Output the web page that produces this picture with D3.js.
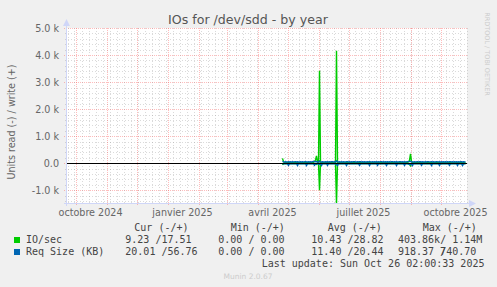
<!DOCTYPE html>
<html>
<head>
<meta charset="utf-8">
<script src="https://cdn.jsdelivr.net/npm/d3@7"></script>
<style>
  body { margin: 0; background: #f0f0f0; }
  svg { display: block; }
</style>
</head>
<body>
<div id="chart"></div>
<script>

const W = 497, H = 287;
const plot = {left: 67, right: 467, top: 28, bottom: 203};

// time window of the "by year" graph (400 days) and first day with samples
const rangeStart = new Date(Date.UTC(2024, 8, 22, 12));
const rangeEnd = d3.utcDay.offset(rangeStart, 400);
const dataStart = new Date(Date.UTC(2025, 3, 26));

// daily samples, read drawn below zero
const ioWrite = [
  180, 60, 22, 18, 25, 20, 17, 30, 24, 19, 21, 26, 18, 23, 28, 20, 16, 22, 27, 19,
  24, 21, 18, 26, 30, 22, 19, 25, 20, 23, 28, 35, 60, 120, 270, 40, 25, 3420, 30, 22,
  26, 19, 24, 21, 28, 23, 18, 25, 20, 27, 22, 19, 24, 30, 4160, 26, 21, 18, 24, 29,
  22, 19, 25, 20, 23, 27, 18, 24, 21, 26, 30, 22, 19, 25, 20, 23, 28, 21, 17, 24,
  26, 20, 23, 19, 27, 22, 25, 18, 24, 21, 28, 23, 19, 26, 22, 20, 25, 18, 24, 27,
  21, 23, 19, 26, 22, 28, 20, 24, 18, 25, 23, 21, 27, 19, 24, 22, 26, 20, 23, 25,
  19, 24, 21, 27, 22, 30, 45, 110, 350, 60, 24, 20, 26, 22, 19, 25, 23, 28, 21, 24,
  20, 26, 22, 19, 25, 23, 27, 21, 24, 18, 26, 22, 20, 25, 23, 19, 27, 21, 24, 22,
  26, 20, 23, 25, 19, 28, 22, 24, 21, 26, 20, 23, 27, 19, 25, 22, 24, 20, 26, 23,
  21, 25, 19, 18
];
const ioRead = [
  60, 20, 8, 6, 10, 7, 5, 12, 9, 6, 8, 11, 7, 9, 10, 6, 5, 8, 12, 7,
  9, 8, 6, 10, 12, 8, 7, 9, 6, 8, 11, 14, 20, 30, 45, 12, 9, 1000, 11, 8,
  10, 7, 9, 8, 11, 9, 6, 10, 7, 12, 8, 7, 9, 12, 1500, 10, 8, 6, 9, 11,
  8, 7, 10, 6, 9, 11, 7, 9, 8, 10, 12, 8, 7, 9, 6, 8, 11, 8, 6, 9,
  10, 7, 9, 6, 11, 8, 10, 6, 9, 8, 12, 9, 7, 10, 8, 7, 9, 6, 9, 11,
  8, 9, 7, 10, 8, 12, 7, 9, 6, 10, 9, 8, 11, 7, 9, 8, 10, 7, 9, 10,
  7, 9, 8, 11, 8, 12, 20, 45, 100, 25, 9, 7, 10, 8, 7, 9, 8, 11, 8, 9,
  7, 10, 8, 7, 9, 8, 11, 8, 9, 6, 10, 8, 7, 9, 8, 7, 11, 8, 9, 8,
  10, 7, 9, 10, 7, 11, 8, 9, 8, 10, 7, 9, 11, 7, 10, 8, 9, 7, 10, 9,
  8, 9, 7, 9
];
const reqWrite = [
  70, 55, 48, 52, 45, 50, 58, 47, 53, 49, 55, 46, 51, 57, 48, 52, 44, 50, 56, 49,
  53, 47, 51, 58, 45, 50, 54, 48, 52, 46, 55, 60, 65, 58, 62, 50, 47, 80, 52, 48,
  55, 46, 50, 53, 47, 57, 49, 52, 45, 51, 56, 48, 53, 50, 90, 52, 47, 54, 49, 51,
  48, 55, 50, 46, 53, 58, 47, 51, 49, 54, 46, 52, 57, 48, 50, 53, 45, 51, 56, 49,
  52, 47, 55, 50, 48, 53, 46, 57, 51, 49, 54, 47, 52, 50, 56, 48, 53, 46, 51, 55,
  49, 52, 47, 54, 50, 57, 48, 51, 46, 53, 55, 49, 52, 47, 56, 50, 48, 54, 51, 47,
  53, 49, 55, 48, 51, 57, 60, 66, 75, 58, 50, 47, 54, 49, 52, 56, 48, 51, 53, 47,
  55, 50, 48, 53, 46, 52, 57, 49, 51, 54, 47, 53, 50, 48, 56, 51, 47, 54, 49, 52,
  50, 55, 47, 52, 49, 56, 48, 53, 51, 46, 54, 50, 57, 48, 52, 49, 55, 47, 51, 53,
  50, 54, 48, 52
];
const reqRead = [
  30, 18, 16, 20, 15, 19, 75, 17, 21, 16, 18, 20, 15, 19, 17, 80, 16, 20, 18, 15,
  19, 17, 21, 16, 85, 18, 15, 20, 17, 19, 16, 18, 70, 20, 25, 17, 19, 40, 18, 82,
  17, 20, 16, 19, 15, 78, 18, 16, 20, 17, 19, 15, 18, 21, 45, 84, 17, 19, 16, 20,
  18, 15, 19, 17, 80, 16, 20, 18, 15, 19, 17, 21, 16, 18, 15, 19, 17, 76, 20, 16,
  18, 15, 19, 17, 20, 16, 18, 82, 15, 19, 17, 20, 16, 18, 15, 78, 19, 17, 16, 20,
  18, 15, 19, 17, 84, 16, 20, 18, 15, 19, 17, 16, 20, 18, 80, 15, 19, 17, 16, 20,
  18, 15, 76, 19, 17, 16, 25, 35, 50, 22, 82, 18, 15, 19, 17, 20, 16, 18, 15, 78,
  19, 17, 16, 20, 18, 15, 19, 17, 16, 84, 20, 18, 15, 19, 17, 16, 20, 80, 18, 15,
  19, 17, 16, 20, 18, 15, 19, 76, 17, 16, 20, 18, 15, 19, 17, 82, 16, 20, 18, 15,
  80, 19, 17, 16
];

const yMajor = [-1000, 0, 1000, 2000, 3000, 4000, 5000];
const yLabels = ["-1.0 k", "0.0", "1.0 k", "2.0 k", "3.0 k", "4.0 k", "5.0 k"];
const xLabelDates = ["2024-10-01", "2025-01-01", "2025-04-01", "2025-07-01", "2025-10-01"];
const xLabels = ["octobre 2024", "janvier 2025", "avril 2025", "juillet 2025", "octobre 2025"];

const legendNames = ["IO/sec", "Req Size (KB)"];
const legendColors = ["#00cc00", "#0066b3"];
const legendHeads = ["Cur (-/+)", "Min (-/+)", "Avg (-/+)", "Max (-/+)"];
const curVals = [" 9.23 /17.51", "20.01 /56.76"];
const minVals = [" 0.00 / 0.00", " 0.00 / 0.00"];
const avgVals = ["10.43 /28.82", "11.40 /20.44"];
const maxVals = ["403.86k/ 1.14M", "918.37 /\b740.70"];

const x = d3.scaleUtc().domain([rangeStart, rangeEnd]).range([plot.left, plot.right]);
const y = d3.scaleLinear().domain([-1470, 5000]).range([plot.bottom, plot.top]);
const px = v => Math.round(v) + 0.5;

const svg = d3.select('#chart').append('svg').attr('width', W).attr('height', H);

svg.append('rect').attr('x', plot.left).attr('y', plot.top)
   .attr('width', plot.right - plot.left).attr('height', plot.bottom - plot.top)
   .attr('fill', '#fff');

const minorCol = 'rgba(140,140,140,0.32)';
const majorCol = 'rgba(255,60,60,0.34)';

// horizontal grid
const gy = svg.append('g').attr('shape-rendering', 'crispEdges');
gy.selectAll('line.minor').data(y.ticks(30).filter(v => v % 1000 !== 0)).join('line')
  .attr('x1', plot.left - 2).attr('x2', plot.right)
  .attr('y1', d => px(y(d))).attr('y2', d => px(y(d)))
  .attr('stroke', minorCol).attr('stroke-dasharray', '1,2');
gy.selectAll('line.major').data(yMajor).join('line')
  .attr('x1', plot.left - 3).attr('x2', plot.right)
  .attr('y1', d => px(y(d))).attr('y2', d => px(y(d)))
  .attr('stroke', majorCol).attr('stroke-dasharray', '1,1');

// vertical grid: weeks and months
const gx = svg.append('g').attr('shape-rendering', 'crispEdges');
gx.selectAll('line.wk').data(d3.utcMonday.range(rangeStart, rangeEnd)).join('line')
  .attr('x1', d => px(x(d))).attr('x2', d => px(x(d)))
  .attr('y1', plot.top).attr('y2', plot.bottom + 2)
  .attr('stroke', minorCol).attr('stroke-dasharray', '1,2');
gx.selectAll('line.mo').data(d3.utcMonth.range(rangeStart, rangeEnd)).join('line')
  .attr('x1', d => px(x(d))).attr('x2', d => px(x(d)))
  .attr('y1', plot.top).attr('y2', plot.bottom + 3)
  .attr('stroke', majorCol).attr('stroke-dasharray', '1,1');

// series
svg.append('clipPath').attr('id', 'clip').append('rect')
   .attr('x', plot.left).attr('y', plot.top)
   .attr('width', plot.right - plot.left).attr('height', plot.bottom - plot.top + 1);

const dayX = (d, i) => x(d3.utcDay.offset(dataStart, i));
const lineUp = d3.line().x(dayX).y(d => y(d));
const lineDown = d3.line().x(dayX).y(d => y(-d));

const series = svg.append('g').attr('clip-path', 'url(#clip)').attr('fill', 'none');
series.append('path').attr('d', lineDown(ioRead)).attr('stroke', legendColors[0]).attr('stroke-width', 1.4);
series.append('path').attr('d', lineUp(ioWrite)).attr('stroke', legendColors[0]).attr('stroke-width', 1.4);
series.append('path').attr('d', lineDown(reqRead)).attr('stroke', legendColors[1]).attr('stroke-width', 1.5);
series.append('path').attr('d', lineUp(reqWrite)).attr('stroke', legendColors[1]).attr('stroke-width', 1.5);

svg.append('line').attr('shape-rendering', 'crispEdges')
   .attr('x1', plot.left).attr('x2', plot.right)
   .attr('y1', px(y(0))).attr('y2', px(y(0))).attr('stroke', '#000');

// axes with arrows
const axisCol = '#cfd6f8';
svg.append('line').attr('shape-rendering', 'crispEdges')
   .attr('x1', plot.left - 0.5).attr('x2', plot.left - 0.5)
   .attr('y1', plot.bottom + 3).attr('y2', plot.top - 6).attr('stroke', axisCol);
svg.append('line').attr('shape-rendering', 'crispEdges')
   .attr('x1', plot.left - 3).attr('x2', plot.right + 5)
   .attr('y1', plot.bottom + 0.5).attr('y2', plot.bottom + 0.5).attr('stroke', axisCol);
svg.append('path').attr('fill', axisCol)
   .attr('d', `M${plot.left - 4},${plot.top - 2}L${plot.left + 3},${plot.top - 2}L${plot.left - 0.5},${plot.top - 9}Z`);
svg.append('path').attr('fill', axisCol)
   .attr('d', `M${plot.right + 2},${plot.bottom - 3}L${plot.right + 2},${plot.bottom + 4}L${plot.right + 9},${plot.bottom + 0.5}Z`);

// labels
const sans = 'DejaVu Sans, sans-serif';
const mono = 'DejaVu Sans Mono, monospace';

svg.append('text').attr('x', 248).attr('y', 24).attr('text-anchor', 'middle')
   .attr('font-family', sans).attr('font-size', 12.6).attr('fill', '#555')
   .text('IOs for /dev/sdd - by year');

svg.append('text').attr('transform', 'translate(15,122) rotate(-90)').attr('text-anchor', 'middle')
   .attr('font-family', sans).attr('font-size', 9.6).attr('fill', '#666')
   .text('Units read (-) / write (+)');

svg.append('text').attr('transform', 'translate(485,54) rotate(90)').attr('text-anchor', 'middle')
   .attr('font-family', sans).attr('font-size', 6.5).attr('fill', '#ccc')
   .text('RRDTOOL / TOBI OETIKER');

svg.selectAll('text.ytl').data(yMajor).join('text')
   .attr('x', 59).attr('y', d => y(d) + 3.5).attr('text-anchor', 'end')
   .attr('font-family', sans).attr('font-size', 9.6).attr('fill', '#666')
   .text((d, i) => yLabels[i]);

svg.selectAll('text.xtl').data(xLabelDates).join('text')
   .attr('x', d => x(d3.utcDay.offset(new Date(d + 'T00:00:00Z'), 15))).attr('y', 216)
   .attr('text-anchor', 'middle')
   .attr('font-family', sans).attr('font-size', 9.6).attr('fill', '#666')
   .text((d, i) => xLabels[i]);

// legend
const cw = 6.05;
const leg = svg.append('g').attr('font-family', mono).attr('font-size', 10).attr('fill', '#444')
   .attr('xml:space', 'preserve').style('white-space', 'pre');

const headX = [134.3, 230.7, 327.7, 422.7];
leg.selectAll('text.head').data(legendHeads).join('text')
   .attr('x', (d, i) => headX[i]).attr('y', 231).text(d => d);

// "\b" steps back one column, like the overprinted slash in the reference
const cellText = (g, str, x0, y0) => {
  const t = g.append('text').attr('x', x0).attr('y', y0);
  str.split('\b').forEach((seg, k) => {
    t.append('tspan').attr('dx', k ? -cw : 0).text(seg);
  });
};

const colX = [125.3, 218.3, 311.3, 398];
legendNames.forEach((name, r) => {
  const yy = 243 + r * 12;
  leg.append('rect').attr('x', 14).attr('y', yy - 6).attr('width', 6).attr('height', 6)
     .attr('fill', legendColors[r]);
  leg.append('text').attr('x', 26).attr('y', yy).text(name);
  [curVals, minVals, avgVals, maxVals].forEach((vals, c) => cellText(leg, vals[r], colX[c], yy));
});

leg.append('text').attr('x', 261.7).attr('y', 267).text('Last update: Sun Oct 26 02:00:33 2025');

svg.append('text').attr('x', 248).attr('y', 279).attr('text-anchor', 'middle')
   .attr('font-family', sans).attr('font-size', 7.5).attr('fill', '#ccc')
   .text('Munin 2.0.67');

</script>
</body>
</html>
